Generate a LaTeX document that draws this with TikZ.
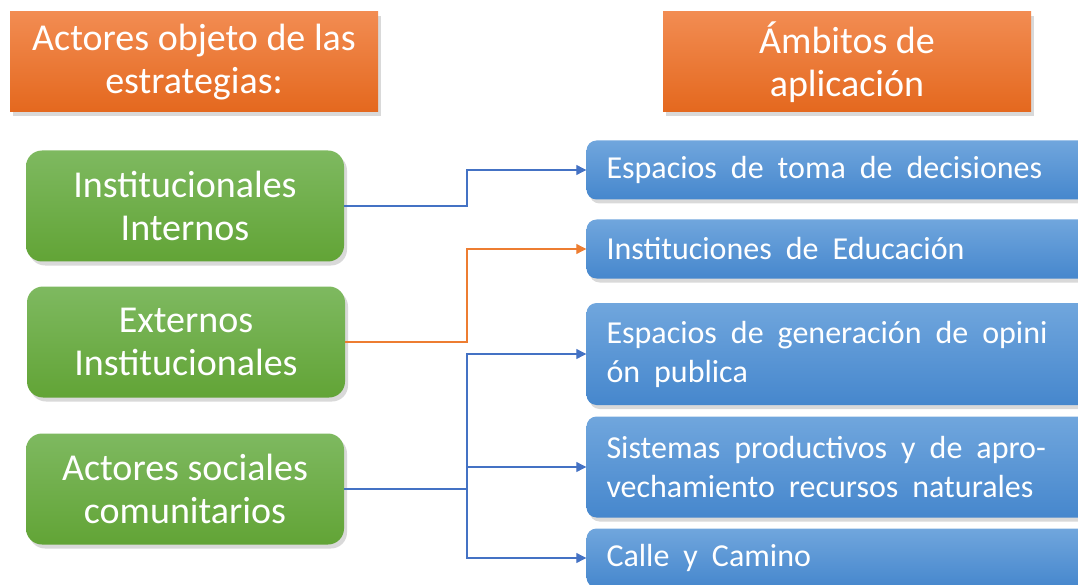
\documentclass[tikz,border=0pt]{standalone}
\usepackage{fontspec}
\setmainfont{Carlito}
\usetikzlibrary{shadows,arrows.meta}

\definecolor{naranjaA}{RGB}{242,140,82}
\definecolor{naranjaB}{RGB}{228,104,30}
\definecolor{verdeA}{RGB}{126,185,96}
\definecolor{verdeB}{RGB}{98,164,54}
\definecolor{azulA}{RGB}{112,166,221}
\definecolor{azulB}{RGB}{70,135,205}
\definecolor{lineaazul}{RGB}{68,114,196}
\definecolor{lineanaranja}{RGB}{237,125,49}

\newcommand{\espaciado}{\spaceskip=14pt plus 2pt\relax}

\begin{document}
\begin{tikzpicture}[x=1pt, y=-1pt]
			\tikzstyle{sombra}  = [drop shadow={shadow xshift=3pt, shadow yshift=-4pt, opacity=0.3}]
			\tikzstyle{titulo}  = [rectangle, sombra, minimum width=368pt, minimum height=100pt, top color=naranjaA, bottom color=naranjaB, text=white, align=center, font=\fontsize{38}{43}\selectfont]
			\tikzstyle{actor}   = [rectangle, sombra, rounded corners=16pt, minimum width=318pt, minimum height=111pt, top color=verdeA, bottom color=verdeB, text=white, align=center, font=\fontsize{38}{43}\selectfont]
			\tikzstyle{ambito}  = [rectangle, sombra, rounded corners=10pt, text width=473pt, inner xsep=20pt, top color=azulA, bottom color=azulB, text=white, align=left, font=\fontsize{32}{39}\selectfont]
			\tikzstyle{flecha}  = [-{Triangle[length=10pt, width=10pt]}, line width=1.1pt]

			\clip (0,0) rectangle (1078,585);
%			\draw[step=50pt, gray!50] (0,0) grid (1078,585);

			\node[titulo] (actores) at (194, 62) {Actores objeto de las\\estrategias:};
			\node[titulo] (ambitos) at (847, 62) {Ámbitos de\\aplicación};

			\node[actor] (internos) at (185, 206) {Institucionales\\Internos};
			\node[actor] (externos) at (186, 342) {Externos\\Institucionales};
			\node[actor] (sociales) at (185, 489) {Actores sociales\\comunitarios};

			\foreach \nombre/\posy/\alto/\texto in {decisiones/170/59/{Espacios de toma de decisiones}, educacion/249/59/{Instituciones de Educación}, opinion/354/102/{Espacios de generación de opini\\ón publica}, sistemas/467/101/{Sistemas productivos y de apro-\\vechamiento recursos naturales}, calle/558/59/{Calle y Camino}}
				\node[ambito, minimum height=\alto pt] (\nombre) at (843, \posy) {\espaciado\texto};

			\coordinate (bus) at (467, 0);

			\draw[flecha, lineaazul] (internos.east) -- (internos.east -| bus) |- (decisiones.west);
			\draw[flecha, lineanaranja] (externos.east) -- (externos.east -| bus) |- (educacion.west);
			\foreach \to in {opinion, sistemas, calle}
				\draw[flecha, lineaazul] (sociales.east) -- (sociales.east -| bus) |- (\to.west);

\end{tikzpicture}
\end{document}
